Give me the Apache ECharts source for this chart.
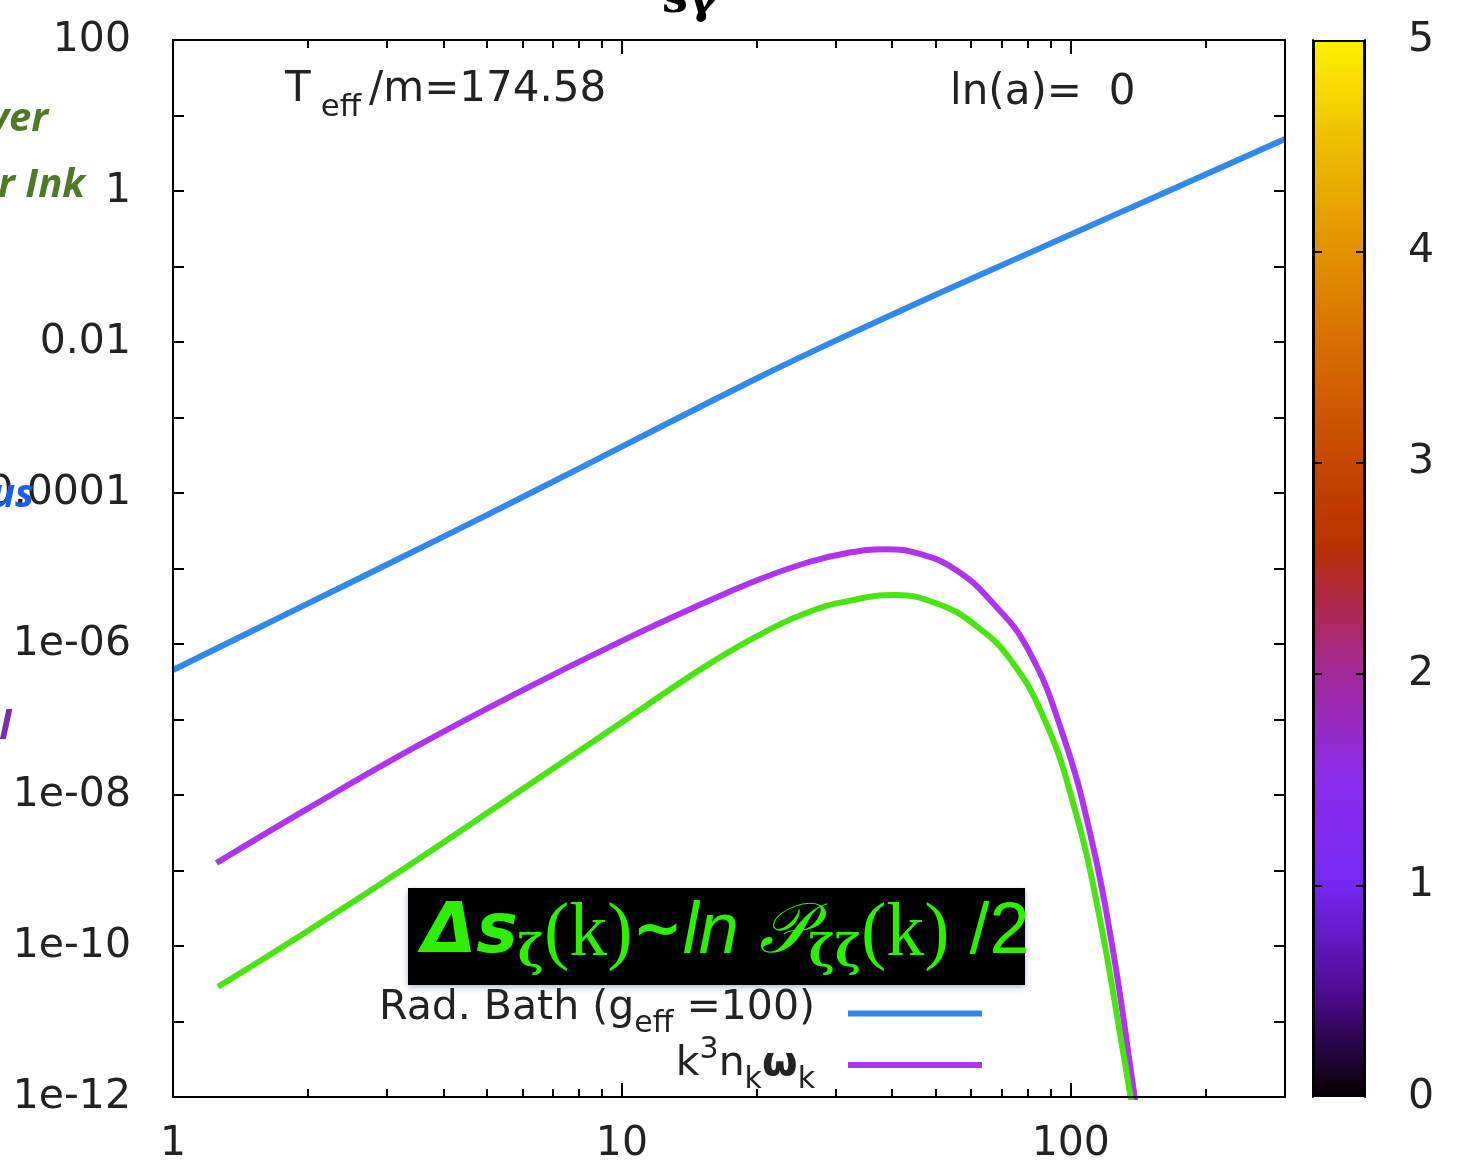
<!DOCTYPE html>
<html><head><meta charset="utf-8">
<script src="https://cdn.jsdelivr.net/npm/echarts@6/dist/echarts.min.js"></script>
<style>html,body{margin:0;padding:0;background:#fff}#c{width:1460px;height:1175px}</style>
</head><body><div id="c"></div>
<script>
// ---------------- data ----------------
const bathK = [1, 2, 3, 5, 8, 12, 20, 30, 50, 80, 130, 200, 300];
const bathV = [4.53e-7, 3.45e-6, 1.13e-5, 5.1e-5, 2.09e-4, 7.16e-4, 3.31e-3, 0.0105, 0.0422, 0.147, 0.533, 1.67, 4.89];

const k3nK = [1.25, 2, 3.5, 6, 10, 15, 20, 26, 32, 38.6, 46.1, 55.5, 66.7, 80.2, 95.9, 111.4, 124, 136, 141];
const k3nV = [1.256e-9, 6.65e-9, 4.46e-8, 2.43e-7, 1.10e-6, 3.35e-6, 6.98e-6, 1.21e-5, 1.62e-5, 1.8e-5, 1.56e-5, 9.55e-6, 3.6e-6, 8.6e-7, 6.43e-8, 2.46e-9, 9.1e-11, 2.28e-12, 5.0e-13];

const zetaK = [1.26, 2, 3.5, 6, 10, 15, 20, 26, 32, 40.6, 50.6, 60.8, 73.2, 87.5, 101.6, 115.4, 131.2, 137];
const zetaV = [2.89e-11, 1.596e-10, 1.377e-9, 1.189e-8, 9.18e-8, 4.65e-7, 1.27e-6, 2.63e-6, 3.72e-6, 4.45e-6, 3.39e-6, 1.84e-6, 6.32e-7, 9.84e-8, 7.14e-9, 2.73e-10, 3.49e-12, 7.4e-13];

const xMin = 1, xMax = 300, yMin = 1e-12, yMax = 100;
const xMajorTicks = [1, 10, 100];
const xTickLabels = ['1', '10', '100'];
const xMinorTicks = [2, 3, 4, 5, 6, 7, 8, 9, 20, 30, 40, 50, 60, 70, 80, 90, 200];
const yTickExps = [-12, -11, -10, -9, -8, -7, -6, -5, -4, -3, -2, -1, 0, 1, 2];
const yLabelExps = [-12, -10, -8, -6, -4, -2, 0, 2];
const yTickLabels = ['1e-12', '1e-10', '1e-08', '1e-06', '0.0001', '0.01', '1', '100'];

const cbMin = 0, cbMax = 5;
const cbTickLabels = ['0', '1', '2', '3', '4', '5'];
const cbInnerTicks = [1, 2, 3, 4];
const paletteStops = [
  [0.0, '#050000'], [0.5, '#4e0b92'], [1.0, '#7428f2'], [1.5, '#8c2cec'],
  [2.0, '#a2289a'], [2.4, '#b2283a'], [2.6, '#b83000'], [3.0, '#c64600'],
  [3.5, '#d66a00'], [4.0, '#e29200'], [4.5, '#eebc00'], [5.0, '#fff200']
];

// ---------------- styling ----------------
const FONT = 'DejaVu Sans';
const TXT = '#222';
const AX = { color: '#000', width: 2 };
const lg = v => Math.log10(v);
const near = (arr, v) => arr.findIndex(t => Math.abs(t - v) < 1e-6);

const chart = echarts.init(document.getElementById('c'), null, { renderer: 'canvas' });

const tickAxisX = (pos, vals, len, withLabels, showLine) => ({
  type: 'value', gridIndex: 0, position: pos, min: lg(xMin), max: lg(xMax), z: 4,
  axisLine: { show: showLine, onZero: false, lineStyle: AX },
  axisTick: { show: true, inside: true, length: len, lineStyle: AX, customValues: vals.map(lg) },
  axisLabel: withLabels ? {
    show: true, customValues: xMajorTicks.map(lg), margin: 27,
    fontFamily: FONT, fontSize: 41, color: TXT,
    formatter: v => xTickLabels[near(xMajorTicks.map(lg), v)]
  } : { show: false },
  splitLine: { show: false }
});

const option = {
  backgroundColor: '#fff',
  animation: false,
  grid: [
    { left: 173, top: 40, width: 1112, height: 1057, containLabel: false, outerBoundsMode: 'none' },
    { left: 1313, top: 40, width: 52, height: 1057, containLabel: false, outerBoundsMode: 'none' }
  ],
  xAxis: [
    { type: 'log', gridIndex: 0, position: 'bottom', min: xMin, max: xMax, z: 4,
      axisLine: { show: true, onZero: false, lineStyle: AX }, axisTick: { show: false }, axisLabel: { show: false }, splitLine: { show: false } },
    tickAxisX('bottom', xMajorTicks, 14, true, false),
    tickAxisX('bottom', xMinorTicks, 8, false, false),
    tickAxisX('top', xMajorTicks, 14, false, true),
    tickAxisX('top', xMinorTicks, 8, false, false),
    { type: 'category', gridIndex: 1, data: ['palette'], show: false, boundaryGap: true }
  ],
  yAxis: [
    { type: 'log', gridIndex: 0, position: 'left', min: yMin, max: yMax, z: 4,
      axisLine: { show: true, onZero: false, lineStyle: AX }, axisTick: { show: false }, axisLabel: { show: false }, splitLine: { show: false } },
    { type: 'value', gridIndex: 0, position: 'left', min: lg(yMin), max: lg(yMax), z: 4,
      axisLine: { show: false, onZero: false },
      axisTick: { show: true, inside: true, length: 11, lineStyle: AX, customValues: yTickExps },
      axisLabel: { show: true, customValues: yLabelExps, margin: 42, fontFamily: FONT, fontSize: 41, color: TXT,
        formatter: v => yTickLabels[near(yLabelExps, v)] },
      splitLine: { show: false } },
    { type: 'value', gridIndex: 0, position: 'right', min: lg(yMin), max: lg(yMax), z: 4,
      axisLine: { show: true, onZero: false, lineStyle: AX },
      axisTick: { show: true, inside: true, length: 11, lineStyle: AX, customValues: yTickExps },
      axisLabel: { show: false }, splitLine: { show: false } },
    { type: 'value', gridIndex: 1, position: 'right', min: cbMin, max: cbMax, interval: 1, z: 6,
      axisLine: { show: true, onZero: false, lineStyle: AX },
      axisTick: { show: true, inside: true, length: 9, lineStyle: AX, customValues: cbInnerTicks },
      axisLabel: { show: true, margin: 43, fontFamily: FONT, fontSize: 41, color: TXT,
        formatter: v => cbTickLabels[Math.round(v)] },
      splitLine: { show: false } },
    { type: 'value', gridIndex: 1, position: 'left', min: cbMin, max: cbMax, interval: 1, z: 6,
      axisLine: { show: true, onZero: false, lineStyle: AX },
      axisTick: { show: true, inside: true, length: 9, lineStyle: AX, customValues: cbInnerTicks },
      axisLabel: { show: false }, splitLine: { show: false } }
  ],
  legend: [
    { data: ['Rad. Bath'], right: 478, top: 988, padding: 0, orient: 'vertical', align: 'right', icon: 'rect',
      itemWidth: 134, itemHeight: 6, selectedMode: false,
      formatter: () => '{t|Rad. Bath (g}{s|eff}{t| =100)}',
      textStyle: { padding: [0, 28, 0, 0], rich: {
        t: { fontFamily: FONT, fontSize: 41, color: TXT, verticalAlign: 'bottom', padding: [0, 0, 10, 0] },
        s: { fontFamily: FONT, fontSize: 30, color: TXT, verticalAlign: 'bottom' } } } },
    { data: ['k3nkwk'], right: 478, top: 1035, padding: 0, orient: 'vertical', align: 'right', icon: 'rect',
      itemWidth: 134, itemHeight: 6, selectedMode: false,
      formatter: () => '{t|k}{p|3}{t|n}{s|k}{w|ω}{s|k}',
      textStyle: { padding: [0, 28, 0, 0], rich: {
        t: { fontFamily: FONT, fontSize: 41, color: TXT, verticalAlign: 'bottom', padding: [0, 0, 10, 0] },
        w: { fontFamily: FONT, fontSize: 41, fontWeight: 'bold', color: TXT, verticalAlign: 'bottom', padding: [0, 0, 10, 0] },
        p: { fontFamily: FONT, fontSize: 30, color: TXT, verticalAlign: 'bottom', padding: [0, 0, 30, 0] },
        s: { fontFamily: FONT, fontSize: 30, color: TXT, verticalAlign: 'bottom' } } } }
  ],
  series: [
    { name: 'Rad. Bath', type: 'line', xAxisIndex: 0, yAxisIndex: 0, showSymbol: false, smooth: 0.3,
      data: bathK.map((k, i) => [k, bathV[i]]), color: '#2f8aec', lineStyle: { width: 6, color: '#2f8aec' }, z: 3 },
    { name: 'k3nkwk', type: 'line', xAxisIndex: 0, yAxisIndex: 0, showSymbol: false, smooth: 0.45,
      data: k3nK.map((k, i) => [k, k3nV[i]]), color: '#b034ee', lineStyle: { width: 6, color: '#b034ee' }, z: 3 },
    { name: 'zeta', type: 'line', xAxisIndex: 0, yAxisIndex: 0, showSymbol: false, smooth: 0.45,
      data: zetaK.map((k, i) => [k, zetaV[i]]), color: '#48e512', lineStyle: { width: 6, color: '#48e512' }, z: 3 },
    { name: 'palette', type: 'bar', xAxisIndex: 5, yAxisIndex: 3, barWidth: '100%', data: [cbMax], z: 1,
      itemStyle: { borderColor: '#000', borderWidth: 2,
        color: new echarts.graphic.LinearGradient(0, 1, 0, 0,
          paletteStops.map(s => ({ offset: (s[0] - cbMin) / (cbMax - cbMin), color: s[1] }))) } }
  ],
  graphic: [
    { type: 'text', x: 662, y: 23, z: 10, style: { text: 'sγ', fontFamily: 'DejaVu Serif', fontWeight: 'bold', fontSize: 46, fill: '#000', verticalAlign: 'bottom' } },
    { type: 'text', x: 285, y: 96, z: 10, style: {
        text: '{n|T}{s|eff}{n|/m=174.58}', verticalAlign: 'middle',
        rich: { n: { fontFamily: FONT, fontSize: 42, fill: TXT, verticalAlign: 'bottom', padding: [0, 0, 12, 0] },
                s: { fontFamily: FONT, fontSize: 31, fill: TXT, verticalAlign: 'bottom', padding: [0, 8, 0, 10] } } } },
    { type: 'text', x: 950, y: 93, z: 10, style: { text: 'ln(a)=  0', fontFamily: FONT, fontSize: 42, fill: TXT, verticalAlign: 'middle' } },
    // cropped slide annotations at the left edge
    { type: 'text', x: 48, y: 120, z: 10, style: { text: 'ver', fontFamily: 'Open Sans', fontStyle: 'italic', fontWeight: 'bold', fontSize: 40, fill: '#4e7a26', align: 'right', verticalAlign: 'middle' } },
    { type: 'text', x: 85, y: 186, z: 10, style: { text: 'r Ink', fontFamily: 'Open Sans', fontStyle: 'italic', fontWeight: 'bold', fontSize: 40, fill: '#4e7a26', align: 'right', verticalAlign: 'middle' } },
    { type: 'text', x: 34, y: 496, z: 10, style: { text: 'us', fontFamily: 'Open Sans', fontStyle: 'italic', fontWeight: 'bold', fontSize: 40, fill: '#1a5fe0', align: 'right', verticalAlign: 'middle' } },
    { type: 'text', x: 11, y: 728, z: 10, style: { text: 'l', fontFamily: 'Open Sans', fontStyle: 'italic', fontWeight: 'bold', fontSize: 40, fill: '#7b2ca6', align: 'right', verticalAlign: 'middle' } },
    // black formula box
    { type: 'rect', z: 20, shape: { x: 408, y: 888, width: 617, height: 97 },
      style: { fill: '#000', shadowBlur: 6, shadowColor: 'rgba(80,110,160,0.5)', shadowOffsetY: 2 } },
    { type: 'text', x: 422, y: 937, z: 21, style: {
        text: '{a|Δs}{z|ζ}{p|(k)}{t|~}{l|ln }{P|𝒫}{z|ζζ}{p|(k)}{u| /2}', verticalAlign: 'middle',
        rich: {
          a: { fontFamily: 'DejaVu Sans', fontWeight: 'bold', fontStyle: 'italic', fontSize: 70, fill: '#2df000', verticalAlign: 'bottom', padding: [0, 0, 8, 0] },
          z: { fontFamily: 'DejaVu Serif', fontWeight: 'bold', fontSize: 44, fill: '#2df000', verticalAlign: 'bottom' },
          p: { fontFamily: 'Liberation Serif', fontSize: 76, fill: '#2df000', verticalAlign: 'bottom', padding: [0, 0, 4, 0] },
          t: { fontFamily: 'DejaVu Sans', fontWeight: 'bold', fontSize: 60, fill: '#2df000', verticalAlign: 'bottom', padding: [0, 0, 14, 0] },
          l: { fontFamily: 'Liberation Sans', fontStyle: 'italic', fontSize: 72, fill: '#2df000', verticalAlign: 'bottom', padding: [0, 0, 8, 0] },
          u: { fontFamily: 'Liberation Sans', fontSize: 72, fill: '#2df000', verticalAlign: 'bottom', padding: [0, 0, 8, 0] },
          P: { fontFamily: 'DejaVu Serif', fontStyle: 'italic', fontSize: 70, fill: '#2df000', verticalAlign: 'bottom', padding: [0, 0, 8, 0] }
        } } }
  ]
};
chart.setOption(option);
</script>
</body></html>
